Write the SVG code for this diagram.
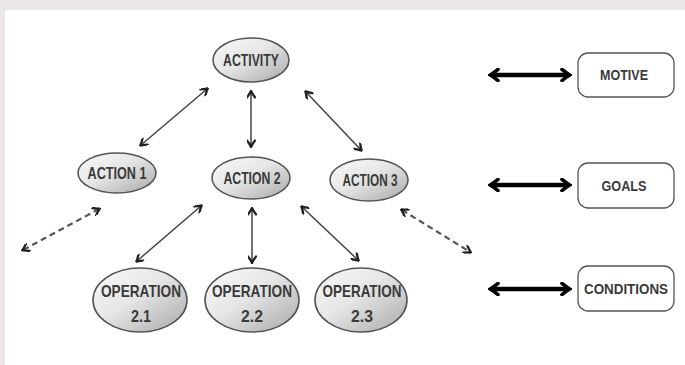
<svg xmlns="http://www.w3.org/2000/svg" width="685" height="365" viewBox="0 0 685 365">
<defs>
<linearGradient id="g" x1="0" y1="0" x2="1" y2="1">
<stop offset="0" stop-color="#fafafa"/>
<stop offset="0.45" stop-color="#e6e6e6"/>
<stop offset="1" stop-color="#a8a8a8"/>
</linearGradient>
<marker id="h" viewBox="0 0 10 10" refX="8" refY="5" markerWidth="9" markerHeight="9" markerUnits="userSpaceOnUse" orient="auto-start-reverse">
<path d="M2,0.5 Q5,3 9,5 Q5,7 2,9.5" fill="none" stroke="#222" stroke-width="2.6" stroke-linecap="round"/>
</marker>
<marker id="H" viewBox="0 0 10 10" refX="8" refY="5" markerWidth="14" markerHeight="14" markerUnits="userSpaceOnUse" orient="auto-start-reverse">
<path d="M3,1 Q6,3.5 8.5,5 Q6,6.5 3,9" fill="none" stroke="#000" stroke-width="2.6" stroke-linecap="round"/>
</marker>
</defs>
<style>
.n ellipse{fill:url(#g);stroke:#555;stroke-width:1.6}
.b rect{fill:#fff;stroke:#555;stroke-width:1.3}
text{font-family:"Liberation Sans Narrow","Liberation Sans",Arial,sans-serif;font-weight:bold;font-size:17px;fill:#3a3a3a;text-anchor:middle}
.b text{font-size:14px}
.t{stroke:#444;stroke-width:1.5;fill:none}
.d{stroke:#555;stroke-width:2.2;stroke-dasharray:6,4;fill:none}
.k{stroke:#000;stroke-width:4.5;fill:none}
</style>
<rect width="685" height="365" fill="#ebe7e6"/>
<rect x="5" y="10" width="680" height="355" fill="#fff"/>

<g id="connectors">
<line class="t" x1="207" y1="89" x2="141" y2="145" marker-start="url(#h)" marker-end="url(#h)"/>
<line class="t" x1="251" y1="92" x2="251" y2="146" marker-start="url(#h)" marker-end="url(#h)"/>
<line class="t" x1="306" y1="92" x2="361" y2="150" marker-start="url(#h)" marker-end="url(#h)"/>
<line class="d" x1="99" y1="209" x2="23" y2="250" marker-start="url(#h)" marker-end="url(#h)"/>
<line class="t" x1="201" y1="206" x2="137" y2="261" marker-start="url(#h)" marker-end="url(#h)"/>
<line class="t" x1="252" y1="209" x2="252" y2="262" marker-start="url(#h)" marker-end="url(#h)"/>
<line class="t" x1="302" y1="207" x2="358" y2="260" marker-start="url(#h)" marker-end="url(#h)"/>
<line class="d" x1="402" y1="210" x2="470" y2="252" marker-start="url(#h)" marker-end="url(#h)"/>
<line class="k" x1="491" y1="75" x2="569" y2="75" marker-start="url(#H)" marker-end="url(#H)"/>
<line class="k" x1="491" y1="185" x2="569" y2="185" marker-start="url(#H)" marker-end="url(#H)"/>
<line class="k" x1="491" y1="289" x2="569" y2="289" marker-start="url(#H)" marker-end="url(#H)"/>
</g>

<g id="activity" class="n"><ellipse cx="251" cy="60" rx="38" ry="22"/><text x="251" y="66" textLength="56" lengthAdjust="spacingAndGlyphs">ACTIVITY</text></g>
<g id="action1" class="n"><ellipse cx="117" cy="173" rx="39" ry="20"/><text x="117" y="179" textLength="59" lengthAdjust="spacingAndGlyphs">ACTION 1</text></g>
<g id="action2" class="n"><ellipse cx="251" cy="178" rx="39" ry="21"/><text x="252" y="184" textLength="57" lengthAdjust="spacingAndGlyphs">ACTION 2</text></g>
<g id="action3" class="n"><ellipse cx="369" cy="180" rx="39" ry="21"/><text x="370" y="186" textLength="55" lengthAdjust="spacingAndGlyphs">ACTION 3</text></g>
<g id="op21" class="n"><ellipse cx="140" cy="300" rx="47" ry="32"/><text x="141" y="297" textLength="80" lengthAdjust="spacingAndGlyphs">OPERATION</text><text x="141" y="322" textLength="20" lengthAdjust="spacingAndGlyphs">2.1</text></g>
<g id="op22" class="n"><ellipse cx="252" cy="300" rx="47" ry="32"/><text x="252" y="297" textLength="80" lengthAdjust="spacingAndGlyphs">OPERATION</text><text x="252" y="322" textLength="22" lengthAdjust="spacingAndGlyphs">2.2</text></g>
<g id="op23" class="n"><ellipse cx="361" cy="300" rx="46" ry="32"/><text x="362" y="297" textLength="79" lengthAdjust="spacingAndGlyphs">OPERATION</text><text x="362" y="322" textLength="22" lengthAdjust="spacingAndGlyphs">2.3</text></g>

<g id="motive" class="b"><rect x="578" y="53" width="96" height="44" rx="10"/><text x="624" y="80" textLength="48" lengthAdjust="spacingAndGlyphs">MOTIVE</text></g>
<g id="goals" class="b"><rect x="578" y="163" width="96" height="45" rx="10"/><text x="624" y="191" textLength="45" lengthAdjust="spacingAndGlyphs">GOALS</text></g>
<g id="conditions" class="b"><rect x="578" y="266" width="96" height="45" rx="10"/><text x="626" y="294" textLength="84" lengthAdjust="spacingAndGlyphs">CONDITIONS</text></g>
</svg>
